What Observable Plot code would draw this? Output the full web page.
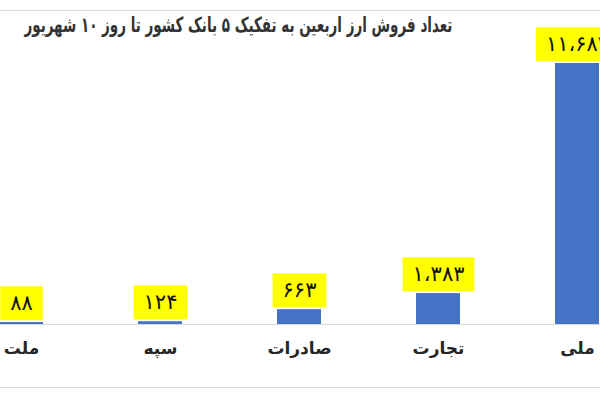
<!DOCTYPE html>
<html><head><meta charset="utf-8">
<script src="https://cdn.jsdelivr.net/npm/d3@7"></script>
<script src="https://cdn.jsdelivr.net/npm/@observablehq/plot@0.6"></script>
<style>
body{margin:0;background:#fff;}
#wrap{position:relative;width:600px;height:400px;overflow:hidden;font-family:"DejaVu Sans",sans-serif;background:#fff;}
#title{position:absolute;top:13px;right:148px;direction:rtl;font-weight:bold;font-size:21px;color:#333;white-space:nowrap;z-index:2;transform-origin:right center;display:inline-block;}
.line{position:absolute;left:0;width:600px;height:1px;background:#dcdcdc;z-index:2;}
#chart{position:absolute;left:0;top:0;}
</style></head>
<body>
<div id="wrap">
  <div id="chart"></div>
  <div class="line" style="top:10px"></div>
  <div class="line" style="top:387px"></div>
  <div id="title">تعداد فروش ارز اربعین به تفکیک ۵ بانک کشور تا روز ۱۰ شهریور</div>
</div>
<script>
const banks = ["ملت", "سپه", "صادرات", "تجارت", "ملی"];
const counts = [88, 124, 663, 1383, 11683];
const valueLabels = ["۸۸", "۱۲۴", "۶۶۳", "۱،۳۸۳", "۱۱،۶۸۳"];

const data = banks.map((b, i) => ({bank: b, count: counts[i], label: valueLabels[i]}));

const chart = Plot.plot({
  width: 600,
  height: 400,
  marginTop: 63,
  marginBottom: 76,
  marginLeft: 0,
  marginRight: 0,
  style: {fontFamily: "DejaVu Sans", background: "transparent"},
  x: {domain: banks, range: [-98, 695], padding: 0.685, label: null},
  y: {domain: [0, 11683], axis: null},
  marks: [
    Plot.barY(data, {x: "bank", y: "count", fill: "#4472C4"}),
    Plot.ruleY([0], {stroke: "#d9d9d9", strokeWidth: 1.2}),
    Plot.axisX({tickSize: 0, tickPadding: 17, fontSize: 17, fontWeight: "bold", fill: "#262626"}),
    Plot.text(data, {x: "bank", y: "count", text: "label", dy: -19, fontSize: 21, fill: "#111", textAnchor: "middle", lineAnchor: "middle"})
  ]
});
document.getElementById("chart").appendChild(chart);

// fit title width to reference (~428px)
const title = document.getElementById("title");
const tw = title.getBoundingClientRect().width;
title.style.transform = `scaleX(${428 / tw})`;

// yellow boxes behind value labels
const groups = chart.querySelectorAll('g[aria-label="text"]');
groups.forEach(g => {
  g.querySelectorAll("text").forEach(t => {
    t.style.letterSpacing = "3px";
    const bb = t.getBBox();
    const rect = document.createElementNS("http://www.w3.org/2000/svg", "rect");
    const w = bb.width + 20;
    const h = 34;
    const cx = bb.x + bb.width / 2;
    const cy = bb.y + bb.height / 2;
    rect.setAttribute("x", cx - w / 2);
    rect.setAttribute("y", cy - h / 2);
    rect.setAttribute("width", w);
    rect.setAttribute("height", h);
    rect.setAttribute("fill", "#FFFF00");
    const tr = t.getAttribute("transform");
    if (tr) rect.setAttribute("transform", tr);
    t.parentNode.insertBefore(rect, t);
  });
});
</script>
</body></html>
